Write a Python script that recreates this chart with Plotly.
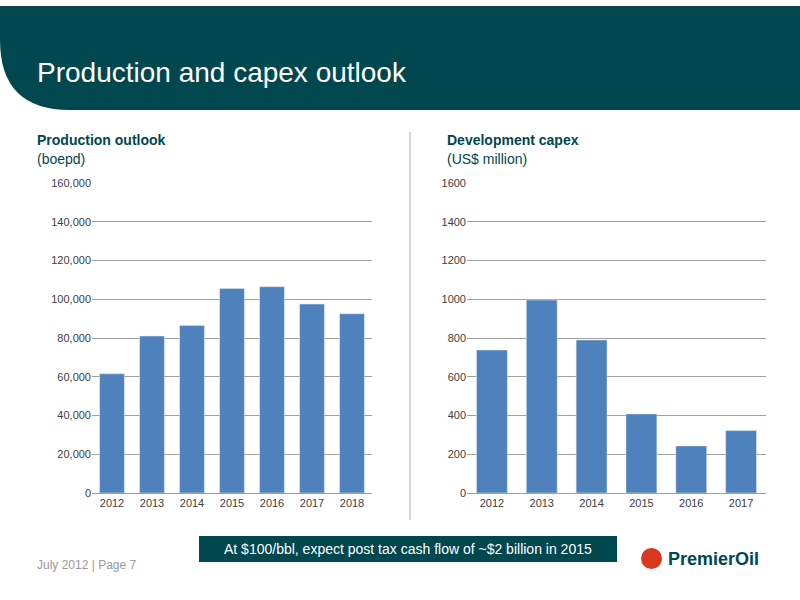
import plotly.graph_objects as go

prod_years = ["2012","2013","2014","2015","2016","2017","2018"]
prod_vals = [61500, 81000, 86500, 105500, 106500, 97500, 92500]
capex_years = ["2012","2013","2014","2015","2016","2017"]
capex_vals = [738, 996, 790, 408, 243, 322]

BLUE = "#4F81BD"
TEAL = "#004750"
W, H = 800, 600
def px(x): return x / W
def py(y): return 1 - (y - 6) / 588

fig = go.Figure()
fig.add_bar(x=prod_years, y=prod_vals, marker_color=BLUE, width=0.62, xaxis="x", yaxis="y")
fig.add_bar(x=capex_years, y=capex_vals, marker_color=BLUE, width=0.62, xaxis="x2", yaxis="y2")

ax = dict(showline=True, linecolor="#A0A0A0", ticks="", tickfont=dict(size=11, color="#404040"), showgrid=False, fixedrange=True)
ay = dict(showgrid=True, gridcolor="#A0A0A0", gridwidth=1, zeroline=False, ticks="", tickfont=dict(size=11, color="#404040"), showline=False)

fig.update_layout(
    autosize=True, margin=dict(l=0, r=0, t=0, b=0),
    paper_bgcolor="white", plot_bgcolor="white", showlegend=False,
    font=dict(family="Liberation Sans, Arial, sans-serif"),
    xaxis=dict(domain=[px(92), px(372)], anchor="y", **ax),
    yaxis=dict(domain=[py(493), py(183)], range=[0, 160000], dtick=20000, tickformat=",", anchor="x", **ay),
    xaxis2=dict(domain=[px(467), px(766)], anchor="y2", **ax),
    yaxis2=dict(domain=[py(493), py(183)], range=[0, 1600], dtick=200, tickformat="d", anchor="x2", **ay),
    shapes=[
        dict(type="path", xref="paper", yref="paper",
             path=f"M 0,1 L 1,1 L 1,{py(110)} L {px(70)},{py(110)} Q 0,{py(110)} 0,{py(40)} Z",
             fillcolor=TEAL, line=dict(width=0), layer="below"),
        dict(type="line", xref="paper", yref="paper", x0=px(410), x1=px(410), y0=py(132), y1=py(520),
             line=dict(color="#C8C8C8", width=1.5)),
        dict(type="rect", xref="paper", yref="paper", x0=px(199), x1=px(617), y0=py(562), y1=py(536),
             fillcolor=TEAL, line=dict(width=0)),
        dict(type="circle", xref="paper", yref="paper", x0=px(641), x1=px(662), y0=py(569), y1=py(548),
             fillcolor="#D9381E", line=dict(width=0)),
    ],
    annotations=[
        dict(text="Production and capex outlook", x=px(35), y=py(72), xref="paper", yref="paper",
             xanchor="left", yanchor="middle", showarrow=False, font=dict(size=28, color="white")),
        dict(text="<b>Production outlook</b>", x=px(35), y=py(140), xref="paper", yref="paper",
             xanchor="left", yanchor="middle", showarrow=False, font=dict(size=14, color=TEAL)),
        dict(text="(boepd)", x=px(35), y=py(159), xref="paper", yref="paper",
             xanchor="left", yanchor="middle", showarrow=False, font=dict(size=14, color=TEAL)),
        dict(text="<b>Development capex</b>", x=px(445), y=py(140), xref="paper", yref="paper",
             xanchor="left", yanchor="middle", showarrow=False, font=dict(size=14, color=TEAL)),
        dict(text="(US$ million)", x=px(445), y=py(159), xref="paper", yref="paper",
             xanchor="left", yanchor="middle", showarrow=False, font=dict(size=14, color=TEAL)),
        dict(text="At $100/bbl, expect post tax cash flow of ~$2 billion in 2015", x=px(408), y=py(549),
             xref="paper", yref="paper", xanchor="center", yanchor="middle", showarrow=False,
             font=dict(size=14, color="white")),
        dict(text="July 2012 | Page 7", x=px(35), y=py(565), xref="paper", yref="paper",
             xanchor="left", yanchor="middle", showarrow=False, font=dict(size=12, color="#9A9A9A")),
        dict(text="<b>PremierOil</b>", x=px(666), y=py(559), xref="paper", yref="paper",
             xanchor="left", yanchor="middle", showarrow=False, font=dict(size=18, color=TEAL)),
    ],
)
fig.write_html("out.html", default_width="100vw", default_height="100vh",
               config=dict(displayModeBar=False, responsive=True),
               post_script="document.documentElement.style.margin='0';document.body.style.margin='0';document.body.style.overflow='hidden';document.documentElement.style.background='linear-gradient(#004750 0 50%, white 50%)';document.body.style.background='transparent';window.dispatchEvent(new Event('resize'));")
